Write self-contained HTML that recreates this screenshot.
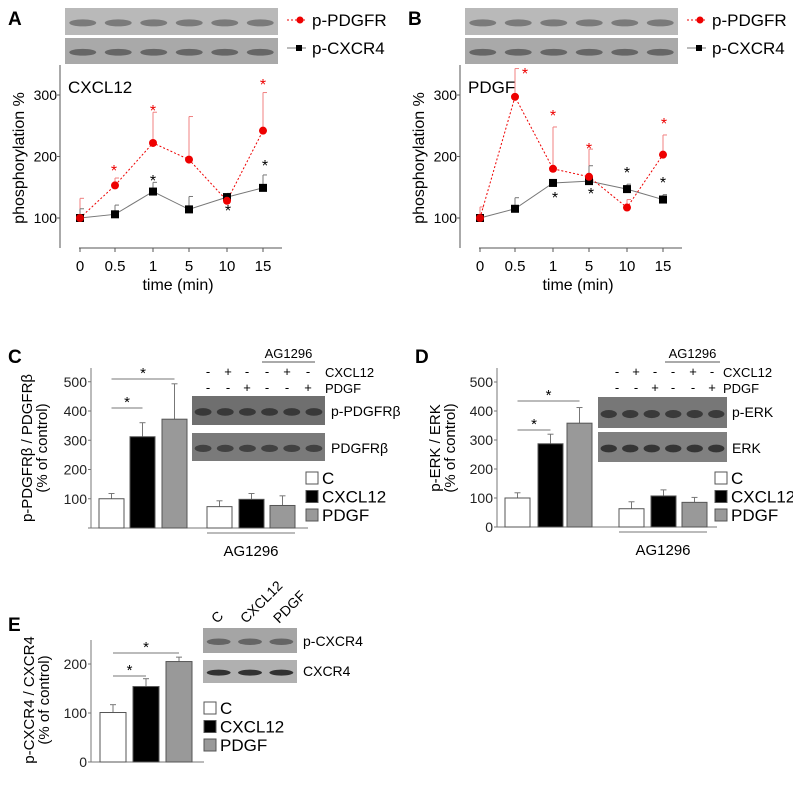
<!DOCTYPE html>
<html><head><meta charset="utf-8"><style>
body{margin:0;background:#fff}
svg{display:block;font-family:"Liberation Sans",Arial,sans-serif}
</style></head><body>
<svg id="fig" width="793" height="799" viewBox="0 0 793 799" xmlns="http://www.w3.org/2000/svg"></svg>
<script>
// ---- Data ----
const timeCats = ["0","0.5","1","5","10","15"];
const aPdgfr = [100,153,222,195,128,242];
const aPdgfrErr = [132,165,272,265,128,304];
const aCxcr4 = [100,106,143,114,134,149];
const aCxcr4Err = [115,121,158,135,140,170];
const bPdgfr = [100,297,180,167,117,203];
const bPdgfrErr = [118,343,248,212,130,235];
const bCxcr4 = [100,115,157,160,147,130];
const bCxcr4Err = [105,133,157,185,155,138];
const lineTicks = [100,200,300];
const barCats = ["C","CXCL12","PDGF"];
const cVals = [100,312,372];
const cErr = [118,360,493];
const cAgVals = [73,98,77];
const cAgErr = [93,118,110];
const dVals = [100,287,358];
const dErr = [118,320,412];
const dAgVals = [63,107,85];
const dAgErr = [87,128,102];
const eVals = [101,154,205];
const eErr = [117,170,214];
const barTicksCD = [100,200,300,400,500];
const barTicksD = [0,100,200,300,400,500];
const eTicks = [0,100,200];

const NS="http://www.w3.org/2000/svg";
const svg=document.getElementById('fig');
function mk(tag,attrs,parent,text){const e=document.createElementNS(NS,tag);for(const k in attrs)e.setAttribute(k,attrs[k]);if(text!==undefined)e.textContent=text;(parent||svg).appendChild(e);return e;}
function grp(name){const g=mk('g',{});return g;}
const fills=["#fff","#000","#999"];

function blot(g,x,y,w,h,n,bg,band,name){
  const r=mk('rect',{x:x,y:y,width:w,height:h,fill:bg},g);
  
  
  const lw=w/n;
  for(let i=0;i<n;i++){mk('ellipse',{cx:x+lw*(i+0.5),cy:y+h*0.55,rx:lw*0.38,ry:h*0.13,fill:band,opacity:0.8},g);}
}

// ---- Line panels ----
function linePanel(ox,letter,cond,pd,pdE,cx,cxE,redStars,blackStars){
  const g=grp('panel-'+letter);
  const xs=[ox+80,ox+115,ox+153,ox+189,ox+227,ox+263];
  const X=i=>xs[i];
  const Y=v=>218-(v-100)*0.615;
  mk('text',{x:ox+8,y:25,'font-size':19,'font-weight':'bold'},g,letter);
  blot(g,ox+65,8,213,27,6,'#b9b9b9','#6a6a6a','blot-p-pdgfr');
  blot(g,ox+65,38,213,26,6,'#a9a9a9','#555','blot-p-cxcr4');
  mk('line',{x1:ox+287,y1:20,x2:ox+306,y2:20,stroke:'#e00','stroke-dasharray':'2,2'},g);
  mk('circle',{cx:ox+300,cy:20,r:3.5,fill:'#e00'},g);
  const l1=mk('text',{x:ox+312,y:26,'font-size':17},g,'p-PDGFR');
  
  mk('line',{x1:ox+287,y1:48,x2:ox+306,y2:48,stroke:'#777'},g);
  mk('rect',{x:ox+296,y:45,width:6,height:6,fill:'#000'},g);
  const l2=mk('text',{x:ox+312,y:54,'font-size':17},g,'p-CXCR4');
  
  mk('line',{x1:ox+60,y1:65,x2:ox+60,y2:248,stroke:'#555'},g);
  mk('line',{x1:ox+79,y1:248,x2:ox+282,y2:248,stroke:'#555'},g);
  lineTicks.forEach(t=>{mk('line',{x1:ox+57,y1:Y(t),x2:ox+60,y2:Y(t),stroke:'#555'},g);
    mk('text',{x:ox+57,y:Y(t)+5,'font-size':14,'text-anchor':'end'},g,t);});
  timeCats.forEach((c,i)=>{mk('line',{x1:X(i),y1:248,x2:X(i),y2:252,stroke:'#555'},g);
    mk('text',{x:X(i),y:271,'font-size':15,'text-anchor':'middle'},g,c);});
  mk('text',{x:ox+178,y:290,'font-size':16,'text-anchor':'middle'},g,'time (min)');
  const yl=mk('text',{x:0,y:0,'font-size':16,'text-anchor':'middle',transform:`translate(${ox+24},158) rotate(-90)`},g,'phosphorylation %');
  
  mk('text',{x:ox+68,y:93,'font-size':17},g,cond);
  pdE.forEach((e,i)=>{if(e>pd[i]){mk('line',{x1:X(i),y1:Y(pd[i]),x2:X(i),y2:Y(e),stroke:'#f08080'},g);
    mk('line',{x1:X(i),y1:Y(e),x2:X(i)+4,y2:Y(e),stroke:'#f08080'},g);}});
  cxE.forEach((e,i)=>{if(e>cx[i]){mk('line',{x1:X(i),y1:Y(cx[i]),x2:X(i),y2:Y(e),stroke:'#777'},g);
    mk('line',{x1:X(i),y1:Y(e),x2:X(i)+4,y2:Y(e),stroke:'#777'},g);}});
  mk('polyline',{points:cx.map((v,i)=>X(i)+','+Y(v)).join(' '),fill:'none',stroke:'#777'},g);
  mk('polyline',{points:pd.map((v,i)=>X(i)+','+Y(v)).join(' '),fill:'none',stroke:'#e00','stroke-dasharray':'2,2'},g);
  cx.forEach((v,i)=>{const m=mk('rect',{x:X(i)-4,y:Y(v)-4,width:8,height:8,fill:'#000'},g);
    });
  pd.forEach((v,i)=>{const m=mk('circle',{cx:X(i),cy:Y(v),r:4,fill:i===0?'#d00':'#e00'},g);
    });
  redStars.forEach(s=>mk('text',{x:X(s[0])+s[1],y:s[2],'font-size':16,fill:'#e00','text-anchor':'middle'},g,'*'));
  blackStars.forEach(s=>mk('text',{x:X(s[0])+s[1],y:s[2],'font-size':16,fill:'#000','text-anchor':'middle'},g,'*'));
}
linePanel(0,'A','CXCL12',aPdgfr,aPdgfrErr,aCxcr4,aCxcr4Err,
  [[1,-1,176],[2,0,116],[5,0,90]],[[2,0,186],[4,1,216],[5,2,171]]);
linePanel(400,'B','PDGF',bPdgfr,bPdgfrErr,bCxcr4,bCxcr4Err,
  [[1,10,79],[2,0,121],[3,0,154],[5,1,129]],[[2,2,203],[3,2,199],[4,0,178],[5,0,188]]);

// ---- Bar panels ----
function barPanel(o){
  const g=grp('panel-'+o.letter);
  const Y=v=>o.y0-v*o.k;
  mk('text',{x:o.lx,y:o.ly,'font-size':19,'font-weight':'bold'},g,o.letter);
  mk('line',{x1:o.ax,y1:o.top,x2:o.ax,y2:o.y0,stroke:'#777'},g);
  mk('line',{x1:o.ax-3,y1:o.y0,x2:o.xend,y2:o.y0,stroke:'#777'},g);
  o.ticks.forEach(t=>{mk('line',{x1:o.ax-3,y1:Y(t),x2:o.ax,y2:Y(t),stroke:'#777'},g);
    mk('text',{x:o.ax-4,y:Y(t)+5,'font-size':14,'text-anchor':'end',fill:'#222'},g,t);});
  const t1=mk('text',{x:0,y:0,'font-size':15,'text-anchor':'middle',transform:`translate(${o.ylx},${o.yly}) rotate(-90)`},g,o.ylab);
  
  mk('text',{x:0,y:0,'font-size':15,'text-anchor':'middle',transform:`translate(${o.ylx+15},${o.yly}) rotate(-90)`},g,'(% of control)');
  function bars(vals,errs,xs,pre){
    vals.forEach((v,i)=>{
      mk('line',{x1:xs[i]+o.bw/2,y1:Y(v),x2:xs[i]+o.bw/2,y2:Y(errs[i]),stroke:'#777'},g);
      mk('line',{x1:xs[i]+o.bw/2-3,y1:Y(errs[i]),x2:xs[i]+o.bw/2+3,y2:Y(errs[i]),stroke:'#777'},g);
      const r=mk('rect',{x:xs[i],y:Y(v),width:o.bw,height:v*o.k,fill:fills[i],stroke:'#555'},g);
      
    });
  }
  bars(o.vals,o.errs,o.xs,'bar-');
  if(o.agVals){bars(o.agVals,o.agErrs,o.agXs,'bar-ag1296-');
    mk('line',{x1:o.agXs[0],y1:o.y0+5,x2:o.agXs[2]+o.bw,y2:o.y0+5,stroke:'#777'},g);
    mk('text',{x:(o.agXs[0]+o.agXs[2]+o.bw)/2,y:o.y0+28,'font-size':15,'text-anchor':'middle'},g,'AG1296');}
  const c0=o.xs[0]+o.bw/2;
  [[1,o.s1],[2,o.s2]].forEach(([j,y])=>{const c1=o.xs[j]+o.bw/2;
    mk('line',{x1:c0,y1:y,x2:c1,y2:y,stroke:'#777'},g);
    mk('text',{x:(c0+c1)/2,y:y-1,'font-size':15,'text-anchor':'middle'},g,'*');});
  barCats.forEach((c,i)=>{const ly=o.legY+i*18.5;
    mk('rect',{x:o.legX,y:ly-6,width:12,height:12,fill:fills[i],stroke:'#555'},g);
    const t=mk('text',{x:o.legX+16,y:ly+6,'font-size':17},g,c);
    });
  return g;
}
function header(g,agx1,agx2,xs2,c12,pdgf,labx){
  mk('text',{x:(agx1+agx2)/2,y:358,'font-size':13,'text-anchor':'middle'},g,'AG1296');
  mk('line',{x1:agx1,y1:362,x2:agx2,y2:362,stroke:'#555'},g);
  xs2.forEach((x,i)=>{mk('text',{x:x,y:376,'font-size':13,'text-anchor':'middle'},g,c12[i]);
    mk('text',{x:x,y:392,'font-size':13,'text-anchor':'middle'},g,pdgf[i]);});
  mk('text',{x:labx,y:377,'font-size':13},g,'CXCL12');
  mk('text',{x:labx,y:393,'font-size':13},g,'PDGF');
}
const c12s=['-','+','-','-','+','-'], pdgfs=['-','-','+','-','-','+'];

const gC=barPanel({letter:'C',lx:8,ly:363,ax:91,top:368,y0:528,k:0.2925,xend:308,ticks:barTicksCD,
  ylab:'p-PDGFRβ / PDGFRβ',ylx:32,yly:448,bw:25,vals:cVals,errs:cErr,xs:[99,130,162],
  agVals:cAgVals,agErrs:cAgErr,agXs:[207,239,270],s1:408,s2:379,legX:306,legY:478});
blot(gC,192,396,133,29,6,'#6f6f6f','#2a2a2a','blot-p-pdgfrb');
blot(gC,192,433,133,28,6,'#7a7a7a','#333','blot-pdgfrb');
mk('text',{x:331,y:416,'font-size':14},gC,'p-PDGFRβ');
mk('text',{x:331,y:453,'font-size':14},gC,'PDGFRβ');
header(gC,262,315,[208,228,247,267,287,308],c12s,pdgfs,325);

const gD=barPanel({letter:'D',lx:415,ly:363,ax:497,top:368,y0:527,k:0.29,xend:717,ticks:barTicksD,
  ylab:'p-ERK / ERK',ylx:440,yly:448,bw:25,vals:dVals,errs:dErr,xs:[505,538,567],
  agVals:dAgVals,agErrs:dAgErr,agXs:[619,651,682],s1:430,s2:401,legX:715,legY:478});
blot(gD,598,397,129,31,6,'#777','#2a2a2a','blot-p-erk');
blot(gD,598,432,129,30,6,'#808080','#222','blot-erk');
mk('text',{x:732,y:417,'font-size':14},gD,'p-ERK');
mk('text',{x:732,y:453,'font-size':14},gD,'ERK');
header(gD,665,720,[617,636,655,673,693,712],c12s,pdgfs,723);

const gE=barPanel({letter:'E',lx:8,ly:631,ax:91,top:640,y0:762,k:0.49,xend:204,ticks:eTicks,
  ylab:'p-CXCR4 / CXCR4',ylx:34,yly:700,bw:26,vals:eVals,errs:eErr,xs:[100,133,166],
  s1:676,s2:653,legX:204,legY:708});
blot(gE,203,628,94,25,3,'#a5a5a5','#555','blot-p-cxcr4-e');
blot(gE,203,660,94,23,3,'#b0b0b0','#111','blot-cxcr4-e');
mk('text',{x:303,y:646,'font-size':14},gE,'p-CXCR4');
mk('text',{x:303,y:676,'font-size':14},gE,'CXCR4');
[['C',217],['CXCL12',246],['PDGF',279]].forEach(([t,x])=>{
  mk('text',{x:0,y:0,'font-size':14,transform:`translate(${x},624) rotate(-45)`},gE,t);});
</script>
</body></html>
